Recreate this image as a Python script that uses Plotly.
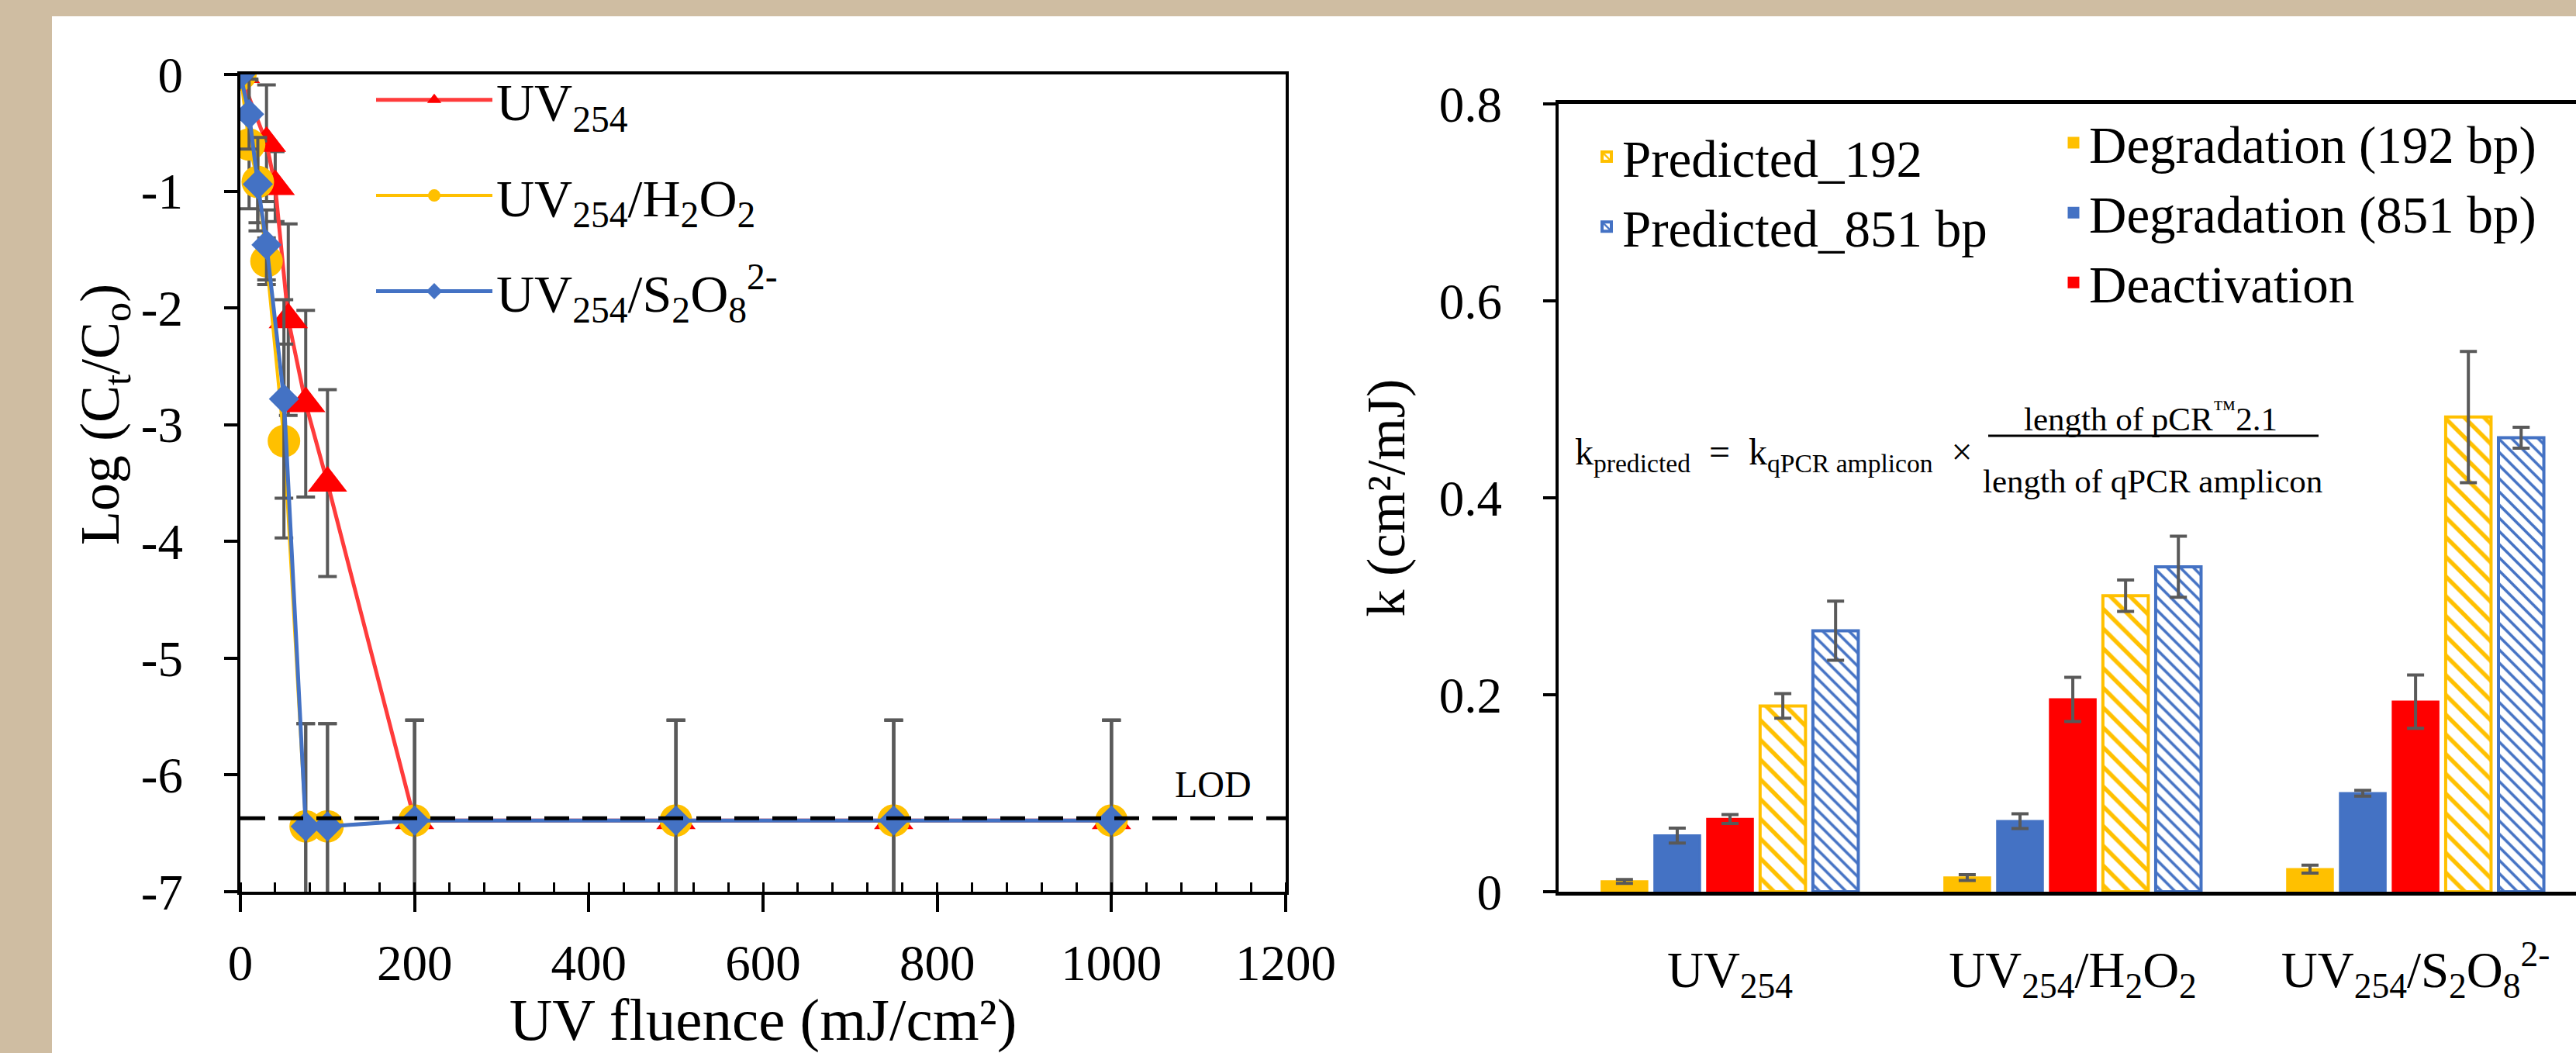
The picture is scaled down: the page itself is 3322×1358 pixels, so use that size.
import plotly.graph_objects as go

# ---------------- Left chart data ----------------
fluence_uv = [0, 30, 40, 55, 75, 100, 200, 500, 750, 1000]
log_uv = [0, -0.59, -0.96, -2.10, -2.82, -3.50, -6.39, -6.39, -6.39, -6.39]
err_uv = [0, 0.50, 0.30, 0.82, 0.80, 0.80, 0.86, 0.86, 0.86, 0.86]

fluence_h2o2 = [0, 10, 20, 30, 50, 75, 100, 200, 500, 750, 1000]
log_h2o2 = [0, -0.60, -0.92, -1.60, -3.14, -6.44, -6.44, -6.39, -6.39, -6.39, -6.39]
err_h2o2 = [0, 0.55, 0.35, 0.20, 0.83, 0.88, 0.88, 0.86, 0.86, 0.86, 0.86]

fluence_s2o8 = [0, 10, 20, 30, 50, 75, 100, 200, 500, 750, 1000]
log_s2o8 = [0, -0.34, -0.94, -1.46, -2.78, -6.44, -6.44, -6.39, -6.39, -6.39, -6.39]
err_s2o8 = [0, 0.30, 0.40, 0.30, 0.85, 0.88, 0.88, 0.86, 0.86, 0.86, 0.86]

lod_level = -6.37

left_names = ["UV<sub>254</sub>",
              "UV<sub>254</sub>/H<sub>2</sub>O<sub>2</sub>",
              "UV<sub>254</sub>/S<sub>2</sub>O<sub>8</sub><sup>2-</sup>"]
left_yticks = [0, -1, -2, -3, -4, -5, -6, -7]
left_yticktext = ["0", "-1", "-2", "-3", "-4", "-5", "-6", "-7"]
left_xticks = [0, 200, 400, 600, 800, 1000, 1200]

# ---------------- Right chart data ----------------
processes = ["UV<sub>254</sub>",
             "UV<sub>254</sub>/H<sub>2</sub>O<sub>2</sub>",
             "UV<sub>254</sub>/S<sub>2</sub>O<sub>8</sub><sup>2-</sup>"]
k_deg192 = [0.0105, 0.0144, 0.0229]
e_deg192 = [0.002, 0.003, 0.004]
k_deg851 = [0.057, 0.0716, 0.100]
e_deg851 = [0.0075, 0.0075, 0.003]
k_deact = [0.0738, 0.1953, 0.193]
e_deact = [0.0045, 0.0225, 0.027]
k_pred192 = [0.1886, 0.3006, 0.482]
e_pred192 = [0.0125, 0.016, 0.0666]
k_pred851 = [0.265, 0.330, 0.461]
e_pred851 = [0.030, 0.031, 0.0106]

right_yticks = [0, 0.2, 0.4, 0.6, 0.8]
right_yticktext = ["0", "0.2", "0.4", "0.6", "0.8"]

# ---------------- Styles ----------------
W, H = 3322, 1358
SERIF = "Liberation Serif"
RED = "#FF0000"
YEL = "#FFC000"
BLU = "#4472C4"
ERR = "#595959"

fig = go.Figure()

# left chart traces
fig.add_trace(go.Scatter(
    x=fluence_uv, y=log_uv, name=left_names[0], mode="lines+markers",
    line=dict(color="#FF3B3B", width=5),
    marker=dict(symbol="triangle-up", size=44, color=RED),
    error_y=dict(type="data", array=err_uv, color=ERR, thickness=4, width=12),
    xaxis="x", yaxis="y", legend="legend", legendgroup="a"))
fig.add_trace(go.Scatter(
    x=fluence_h2o2, y=log_h2o2, name=left_names[1], mode="lines+markers",
    line=dict(color=YEL, width=4),
    marker=dict(symbol="circle", size=42, color=YEL),
    error_y=dict(type="data", array=err_h2o2, color=ERR, thickness=4, width=12),
    xaxis="x", yaxis="y", legend="legend", legendgroup="b"))
fig.add_trace(go.Scatter(
    x=fluence_s2o8, y=log_s2o8, name=left_names[2], mode="lines+markers",
    line=dict(color=BLU, width=5),
    marker=dict(symbol="diamond", size=30, color=BLU),
    error_y=dict(type="data", array=err_s2o8, color=ERR, thickness=4, width=12),
    xaxis="x", yaxis="y", legend="legend", legendgroup="c"))

# right chart bars
def solid_bar(name, vals, errs, color, legend):
    return go.Bar(x=processes, y=vals, name=name,
                  marker=dict(color=color, line=dict(color=color, width=3)),
                  error_y=dict(type="data", array=errs, color=ERR, thickness=4, width=11),
                  xaxis="x2", yaxis="y2", legend=legend, legendgroup=name)

def hatch_bar(name, vals, errs, color, size, legend):
    return go.Bar(x=processes, y=vals, name=name,
                  marker=dict(color="white", line=dict(color=color, width=4),
                              pattern=dict(shape="\\", fgcolor=color, bgcolor="white",
                                           size=size, solidity=0.3)),
                  error_y=dict(type="data", array=errs, color=ERR, thickness=4, width=11),
                  xaxis="x2", yaxis="y2", legend=legend, legendgroup=name)

fig.add_trace(solid_bar("Degradation (192 bp)", k_deg192, e_deg192, YEL, "legend3"))
fig.add_trace(solid_bar("Degradation (851 bp)", k_deg851, e_deg851, BLU, "legend3"))
fig.add_trace(solid_bar("Deactivation", k_deact, e_deact, RED, "legend3"))
fig.add_trace(hatch_bar("Predicted_192", k_pred192, e_pred192, YEL, 18, "legend2"))
fig.add_trace(hatch_bar("Predicted_851 bp", k_pred851, e_pred851, BLU, 12, "legend2"))

num_font = dict(family=SERIF, size=65, color="black")
cat_font = dict(family=SERIF, size=65, color="black")

fig.update_layout(
    template="none",
    width=W, height=H, autosize=False,
    margin=dict(l=0, r=0, t=0, b=0, pad=0),
    font=dict(family=SERIF, color="black"),
    paper_bgcolor="#CFBDA2",
    plot_bgcolor="white",
    showlegend=True,
    barmode="group", bargap=0.23, bargroupgap=0.14,
    xaxis=dict(domain=[310 / W, 1658 / W], range=[0, 1200], tickvals=left_xticks,
               ticks="outside", ticklen=22, tickwidth=4, tickcolor="black",
               showline=True, linecolor="black", linewidth=4, mirror=True,
               showgrid=False, zeroline=False, tickfont=num_font,
               ticklabelstandoff=10, automargin=False,
               minor=dict(ticks="inside", dtick=40, ticklen=12, tickwidth=3,
                          tickcolor="black", showgrid=False),
               title=dict(text="UV fluence (mJ/cm²)",
                          font=dict(family=SERIF, size=77, color="black"), standoff=22),
               anchor="y"),
    yaxis=dict(domain=[(H - 1150) / H, (H - 96) / H], range=[-7, 0],
               tickvals=left_yticks, ticktext=left_yticktext,
               ticks="outside", ticklen=17, tickwidth=4, tickcolor="black",
               showline=True, linecolor="black", linewidth=4, mirror=True,
               showgrid=False, zeroline=False, tickfont=num_font,
               ticklabelstandoff=40, automargin=False,
               anchor="x"),
    yaxis3=dict(overlaying="y", side="right", anchor="x", range=[-7, 0],
                tickvals=left_yticks, ticks="inside", ticklen=15, tickwidth=4,
                tickcolor="black", showticklabels=False, showline=False,
                showgrid=False, zeroline=False, automargin=False),
    xaxis2=dict(domain=[2010 / W, 1.0], type="category", range=[-0.5, 2.468],
                ticks="", showline=True, linecolor="black", linewidth=5, mirror=True,
                showgrid=False, zeroline=False, tickfont=cat_font,
                ticklabelstandoff=40, automargin=False, anchor="y2"),
    yaxis2=dict(domain=[(H - 1150) / H, (H - 134) / H], range=[0, 0.8],
                tickvals=right_yticks, ticktext=right_yticktext,
                ticks="outside", ticklen=16, tickwidth=4, tickcolor="black",
                showline=True, linecolor="black", linewidth=4, mirror=False,
                showgrid=False, zeroline=False, tickfont=num_font,
                ticklabelstandoff=40, automargin=False,
                title=dict(text="k (cm²/mJ)",
                           font=dict(family=SERIF, size=70, color="black"), standoff=22),
                anchor="x2"),
    legend=dict(x=480 / W, y=(H - 78) / H, xanchor="left", yanchor="top",
                font=dict(family=SERIF, size=68, color="black"),
                bgcolor="rgba(0,0,0,0)", itemwidth=150, tracegroupgap=32,
                traceorder="grouped"),
    legend2=dict(x=2052 / W, y=(H - 152) / H, xanchor="left", yanchor="top",
                 font=dict(family=SERIF, size=67, color="black"),
                 bgcolor="rgba(0,0,0,0)", itemwidth=30, tracegroupgap=0,
                 traceorder="grouped"),
    legend3=dict(x=2654 / W, y=(H - 134) / H, xanchor="left", yanchor="top",
                 font=dict(family=SERIF, size=67, color="black"),
                 bgcolor="rgba(0,0,0,0)", itemwidth=30, tracegroupgap=0,
                 traceorder="grouped"),
)

# white card on wood background
fig.add_shape(type="rect", xref="paper", yref="paper", x0=67 / W, x1=1, y0=0,
              y1=1 - 21 / H, fillcolor="white", line=dict(width=0), layer="below")

# left y-axis title (placed as in the reference)
fig.add_annotation(x=134 / W, y=1 - 535 / H, xref="paper", yref="paper",
                   xanchor="center", yanchor="middle", textangle=-90, showarrow=False,
                   text="Log (C<sub>t</sub>/C<sub>o</sub>)",
                   font=dict(family=SERIF, size=72, color="black"))

# LOD line
fig.add_shape(type="line", xref="x domain", yref="y", x0=0, x1=1,
              y0=lod_level, y1=lod_level,
              line=dict(color="black", width=5, dash="32px,17px"), layer="above")
fig.add_annotation(x=1117, y=-6.08, xref="x", yref="y", text="LOD", showarrow=False,
                   font=dict(family="Liberation Sans Narrow", size=48, color="black"))

# formula annotation
fig.add_annotation(x=2029 / W, y=1 - 586 / H, xref="paper", yref="paper",
                   xanchor="left", yanchor="middle", showarrow=False,
                   font=dict(family=SERIF, size=48, color="black"),
                   text="k<sub>predicted</sub>  =  k<sub>qPCR amplicon</sub>  ×")
fig.add_annotation(x=2773 / W, y=1 - 537 / H, xref="paper", yref="paper",
                   xanchor="center", yanchor="middle", showarrow=False,
                   font=dict(family=SERIF, size=43, color="black"),
                   text="length of pCR<sup>™</sup>2.1")
fig.add_annotation(x=2776 / W, y=1 - 621 / H, xref="paper", yref="paper",
                   xanchor="center", yanchor="middle", showarrow=False,
                   font=dict(family=SERIF, size=43, color="black"),
                   text="length of qPCR amplicon")
fig.add_shape(type="line", xref="paper", yref="paper", x0=2564 / W, x1=2990 / W,
              y0=1 - 562 / H, y1=1 - 562 / H, line=dict(color="black", width=3))

fig.write_html("out.html", config={"displayModeBar": False},
               post_script="document.body.style.margin='0';")
